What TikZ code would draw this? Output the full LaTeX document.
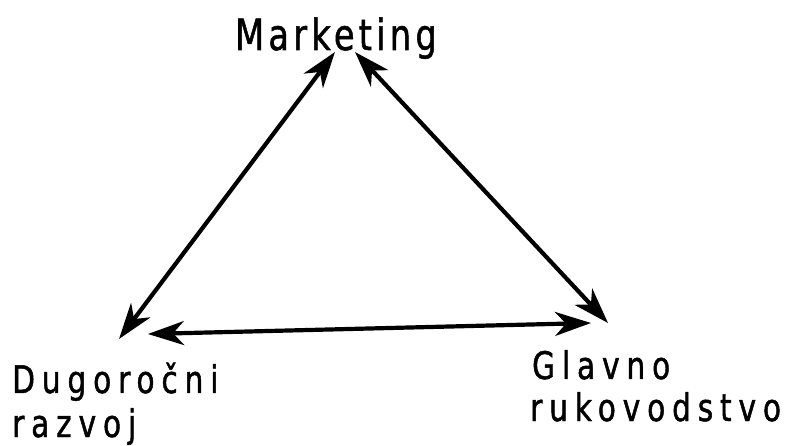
\documentclass[tikz,border=0pt]{standalone}
\usepackage{fontspec}
\setmainfont{DejaVu Sans}
\newfontfamily\topfont[FakeStretch=0.78,LetterSpace=10,FakeBold=1.2]{DejaVu Sans}
\newfontfamily\lowfont[FakeStretch=0.78,LetterSpace=18,FakeBold=1.2]{DejaVu Sans}
\usetikzlibrary{arrows.meta}
\begin{document}
\begin{tikzpicture}[x=1pt,y=-1pt,
  lbl/.style={inner sep=0pt,anchor=base west},
  link/.style={line width=4.2pt,{Stealth[length=36pt,width=24pt,inset=11pt]}-{Stealth[length=36pt,width=24pt,inset=11pt]}}]
\useasboundingbox (0,0) rectangle (785,446);
\node[lbl,font=\topfont\fontsize{43}{43}\selectfont] (mkt) at (235,50) {Marketing};
\node[lbl,font=\lowfont\fontsize{38}{38}\selectfont] (dug) at (12,393) {Dugoročni};
\node[lbl,font=\lowfont\fontsize{38}{38}\selectfont] (raz) at (12,437) {razvoj};
\node[lbl,font=\lowfont\fontsize{38}{38}\selectfont] (gla) at (532,379) {Glavno};
\node[lbl,font=\lowfont\fontsize{38}{38}\selectfont] (ruk) at (530,421) {rukovodstvo};
\coordinate (m1) at (335,52);
\coordinate (m2) at (355,52);
\coordinate (d1) at (119,339);
\coordinate (d2) at (148,334);
\coordinate (g1) at (591,323);
\coordinate (g2) at (608,323);
\draw[link] (m1) -- (d1);
\draw[link] (m2) -- (g2);
\draw[link] (d2) -- (g1);
\end{tikzpicture}
\end{document}
